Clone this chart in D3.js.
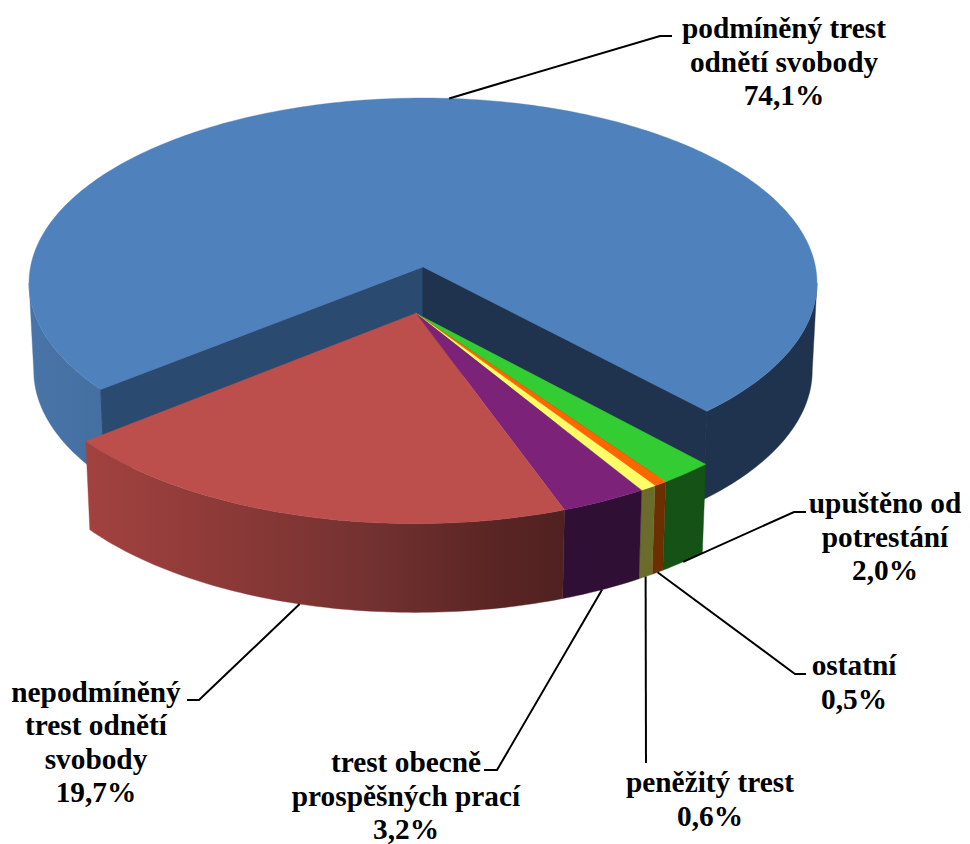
<!DOCTYPE html>
<html>
<head>
<meta charset="utf-8">
<script src="https://cdn.jsdelivr.net/npm/d3@7"></script>
<style>
  html, body { margin: 0; padding: 0; background: #fff; }
  svg { display: block; }
</style>
</head>
<body>
<div id="chart"></div>
<script>
// data, clockwise from the blue slice
const categories = [
  ["podmíněný trest", "odnětí svobody"],
  ["upuštěno od", "potrestání"],
  ["ostatní"],
  ["peněžitý trest"],
  ["trest obecně", "prospěšných prací"],
  ["nepodmíněný", "trest odnětí", "svobody"]
];
const shares = [74.1, 2.0, 0.5, 0.6, 3.2, 19.7];
const topColors = ["#4f81bd", "#33cc33", "#ff6600", "#ffff66", "#7c2379", "#bc4f4c"];
const sideColors = ["#1f334e", "#155215", "#6b2f00", "#6b6b2c", "#2f0f33", "#7a3333"];

// where each label sits: text centre, first baseline, leader elbow and end
const labelX = [784, 885, 854, 710, 406, 96];
const labelY = [38, 513, 675, 792, 772, 701.5];
const elbowX = [660, 794, 795, 646, 497, 199];
const elbowY = [36, 512, 674, 763, 770, 700];
const endX = [672, 806, 806, 646, 484, 187];

const width = 970, height = 844;
const lineHeight = 33.5;

// perspective of the pie plane, measured on the picture
const cx = 423, cy = 267;
const rx = 392.5, ry = 183.6, persp = 0.0865;
const bottomY = 354.5, bottomScaleX = 0.988, bottomScaleY = 1.005;
const explode = 0.2476;

const pie = d3.pie()
  .sort(null)
  .startAngle(230.9 * Math.PI / 180)
  .endAngle(230.9 * Math.PI / 180 + 2 * Math.PI);
const slices = pie(shares);

// offset in the plane of everything except the first slice
const gapMid = slices[0].endAngle + (2 * Math.PI - (slices[0].endAngle - slices[0].startAngle)) / 2;
const offU = explode * Math.sin(gapMid), offV = -explode * Math.cos(gapMid);

function project(angle, radius, exploded, bottom) {
  const u = radius * Math.sin(angle) + (exploded ? offU : 0);
  const v = -radius * Math.cos(angle) + (exploded ? offV : 0);
  const w = 1 - persp * v;
  const sx = bottom ? bottomScaleX : 1;
  const sy = bottom ? bottomScaleY : 1;
  return [cx + sx * rx * u / w, (bottom ? bottomY : cy) + sy * ry * v / w];
}

function arcPoints(a0, a1, exploded, bottom) {
  const n = Math.max(2, Math.ceil(Math.abs(a1 - a0) / (Math.PI / 180)));
  return d3.range(n + 1).map(i => project(a0 + (a1 - a0) * i / n, 1, exploded, bottom));
}

const line = d3.line();
const closed = pts => line(pts) + "Z";

const svg = d3.select("#chart").append("svg")
  .attr("width", width)
  .attr("height", height);

const defs = svg.append("defs");

function addGradient(id, x1, x2, stops) {
  const g = defs.append("linearGradient")
    .attr("id", id)
    .attr("gradientUnits", "userSpaceOnUse")
    .attr("x1", x1).attr("x2", x2).attr("y1", 0).attr("y2", 0);
  stops.forEach(s => g.append("stop").attr("offset", s[0]).attr("stop-color", s[1]));
}

// rim shading of the big slices
addGradient("rimBlue", 28, 105, [[0, "#4874a8"], [1, "#446fa0"]]);
addGradient("rimRed", 86, 566, [[0, "#a2423f"], [0.35, "#873836"], [0.6, "#723130"], [0.85, "#5a2524"], [1, "#4f2120"]]);

function drawRim(g, a0, a1, exploded, fill) {
  const pts = arcPoints(a0, a1, exploded, false)
    .concat(arcPoints(a1, a0, exploded, true));
  g.append("path").attr("d", closed(pts)).attr("fill", fill).attr("stroke", fill).attr("stroke-width", 0.4);
}

function drawTop(g, d, exploded, fill) {
  const pts = [project(0, 0, exploded, false)].concat(arcPoints(d.startAngle, d.endAngle, exploded, false));
  g.append("path").attr("d", closed(pts)).attr("fill", fill).attr("stroke", fill).attr("stroke-width", 0.4);
}

const pieG = svg.append("g");

// blue slice stays in place: only the front of its rim shows, up to the silhouette
const blue = slices[0];
const silhouette = Math.acos(persp);
const rimRight = Math.PI - silhouette;
const rimLeft = Math.PI + silhouette;
const blueEnd = blue.endAngle - 2 * Math.PI;
drawRim(pieG, blue.startAngle, rimLeft, false, "url(#rimBlue)");
drawRim(pieG, rimRight, blueEnd, false, sideColors[0]);

const wallFill = ["#2b4a70", sideColors[0]];
[blue.startAngle, blue.endAngle].forEach((a, i) => {
  const pts = [project(0, 0, false, false), project(a, 1, false, false),
               project(a, 1, false, true), project(0, 0, false, true)];
  pieG.append("path").attr("d", closed(pts)).attr("fill", wallFill[i]).attr("stroke", wallFill[i]).attr("stroke-width", 1);
});
drawTop(pieG, blue, false, topColors[0]);

// the other slices are pulled out together
slices.slice(1).forEach((d, i) => {
  const fill = i === 4 ? "url(#rimRed)" : sideColors[i + 1];
  drawRim(pieG, d.startAngle, d.endAngle, true, fill);
});
slices.slice(1).forEach((d, i) => drawTop(pieG, d, true, topColors[i + 1]));

// leaders start at the middle of each slice's outer edge
const fmt = v => d3.format(".1f")(v).replace(".", ",");
const leaderG = svg.append("g");
slices.forEach((d, i) => {
  const mid = (d.startAngle + d.endAngle) / 2;
  const start = project(mid, 1, i > 0, i > 0);
  leaderG.append("path")
    .attr("d", line([start, [elbowX[i], elbowY[i]], [endX[i], elbowY[i]]]))
    .attr("fill", "none")
    .attr("stroke", "#000")
    .attr("stroke-width", 2);
});

// labels
const labelG = svg.append("g")
  .style("font-family", "'Liberation Serif', 'Times New Roman', serif")
  .style("font-weight", "bold")
  .style("font-size", "29.33px")
  .attr("text-anchor", "middle")
  .attr("fill", "#000");

categories.forEach((lines, i) => {
  const text = labelG.append("text");
  lines.concat([fmt(shares[i]) + "%"]).forEach((t, j) => {
    text.append("tspan")
      .attr("x", labelX[i])
      .attr("y", labelY[i] + j * lineHeight)
      .text(t);
  });
});
</script>
</body>
</html>
